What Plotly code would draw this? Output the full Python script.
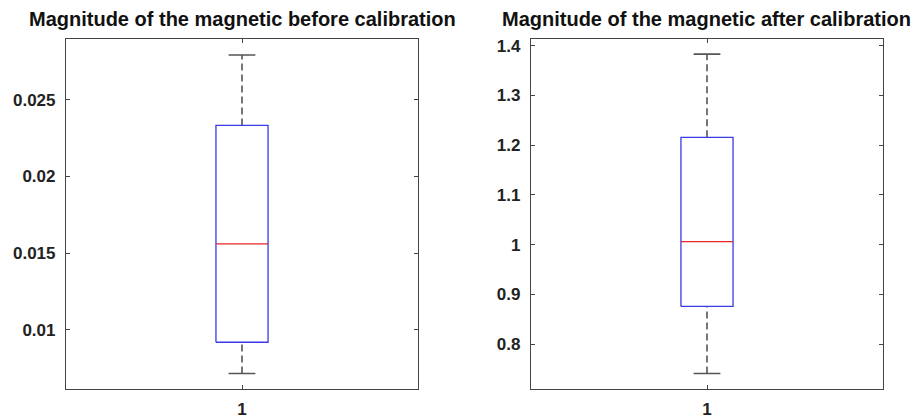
import plotly.graph_objects as go

# ---- data ----
categories = ["1"]
titles = ["Magnitude of the magnetic before calibration",
          "Magnitude of the magnetic after calibration"]
# [lower whisker, Q1, median, Q3, upper whisker]
before_stats = [0.00714, 0.00918, 0.0156, 0.02333, 0.02792]
after_stats = [0.741, 0.876, 1.0064, 1.2159, 1.3833]
before_ticks = [0.01, 0.015, 0.02, 0.025]
before_ticktext = ["0.01", "0.015", "0.02", "0.025"]
after_ticks = [0.8, 0.9, 1.0, 1.1, 1.2, 1.3, 1.4]
after_ticktext = ["0.8", "0.9", "1", "1.1", "1.2", "1.3", "1.4"]
before_range = [0.00612, 0.02898]
after_range = [0.7096, 1.414]

# ---- styles ----
BOX_HALF = 0.074
CAP_HALF = 0.038
BLUE = "#3a3ae6"
RED = "#e8262b"
WHISK = "#555555"
AX = "#444444"
FONT = "Liberation Sans"

fig = go.Figure()


def add_box(stats, xa, ya):
    lo, q1, med, q3, hi = stats
    xc = 1
    common = dict(xaxis=xa, yaxis=ya, mode="lines", showlegend=False,
                  hoverinfo="skip")
    # whiskers (dashed)
    fig.add_trace(go.Scatter(x=[xc, xc], y=[q3, hi],
                             line=dict(color=WHISK, width=1.6, dash="7px,4px"), **common))
    fig.add_trace(go.Scatter(x=[xc, xc], y=[lo, q1],
                             line=dict(color=WHISK, width=1.6, dash="7px,4px"), **common))
    # caps
    fig.add_trace(go.Scatter(x=[xc - CAP_HALF, xc + CAP_HALF], y=[hi, hi],
                             line=dict(color=WHISK, width=1.6), **common))
    fig.add_trace(go.Scatter(x=[xc - CAP_HALF, xc + CAP_HALF], y=[lo, lo],
                             line=dict(color=WHISK, width=1.6), **common))
    # box
    fig.add_trace(go.Scatter(
        x=[xc - BOX_HALF, xc + BOX_HALF, xc + BOX_HALF, xc - BOX_HALF, xc - BOX_HALF],
        y=[q1, q1, q3, q3, q1],
        line=dict(color=BLUE, width=1.3), **common))
    # median
    fig.add_trace(go.Scatter(x=[xc - BOX_HALF, xc + BOX_HALF], y=[med, med],
                             line=dict(color=RED, width=1.3), **common))


add_box(before_stats, "x", "y")
add_box(after_stats, "x2", "y2")

ydom = [30 / 419, 382 / 419]
xdom1 = [66 / 922, 418 / 922]
xdom2 = [531 / 922, 883 / 922]

axis_common = dict(showline=True, linecolor=AX, linewidth=1.2, mirror="ticks",
                   ticks="inside", ticklen=4, tickcolor=AX, tickwidth=1,
                   showgrid=False, zeroline=False,
                   tickfont=dict(family=FONT, size=17, color="#222222", weight="bold"))

fig.update_layout(
    width=922, height=419,
    margin=dict(l=0, r=0, t=0, b=0),
    paper_bgcolor="white", plot_bgcolor="white",
    xaxis=dict(domain=xdom1, anchor="y", range=[0.5, 1.5], tickvals=[1],
               ticktext=categories, ticklabelstandoff=4, **axis_common),
    yaxis=dict(domain=ydom, anchor="x", range=before_range, tickvals=before_ticks,
               ticktext=before_ticktext, ticklabelstandoff=6, **axis_common),
    xaxis2=dict(domain=xdom2, anchor="y2", range=[0.5, 1.5], tickvals=[1],
                ticktext=categories, ticklabelstandoff=4, **axis_common),
    yaxis2=dict(domain=ydom, anchor="x2", range=after_range, tickvals=after_ticks,
                ticktext=after_ticktext, ticklabelstandoff=6, **axis_common),
    annotations=[
        dict(text=titles[0], x=(xdom1[0] + xdom1[1]) / 2, y=1 - 17 / 419,
             xref="paper", yref="paper", showarrow=False, xanchor="center",
             yanchor="middle",
             font=dict(family=FONT, size=20, color="#111111", weight="bold")),
        dict(text=titles[1], x=(xdom2[0] + xdom2[1]) / 2, y=1 - 17 / 419,
             xref="paper", yref="paper", showarrow=False, xanchor="center",
             yanchor="middle",
             font=dict(family=FONT, size=20, color="#111111", weight="bold")),
    ],
)

fig.write_html("out.html")
